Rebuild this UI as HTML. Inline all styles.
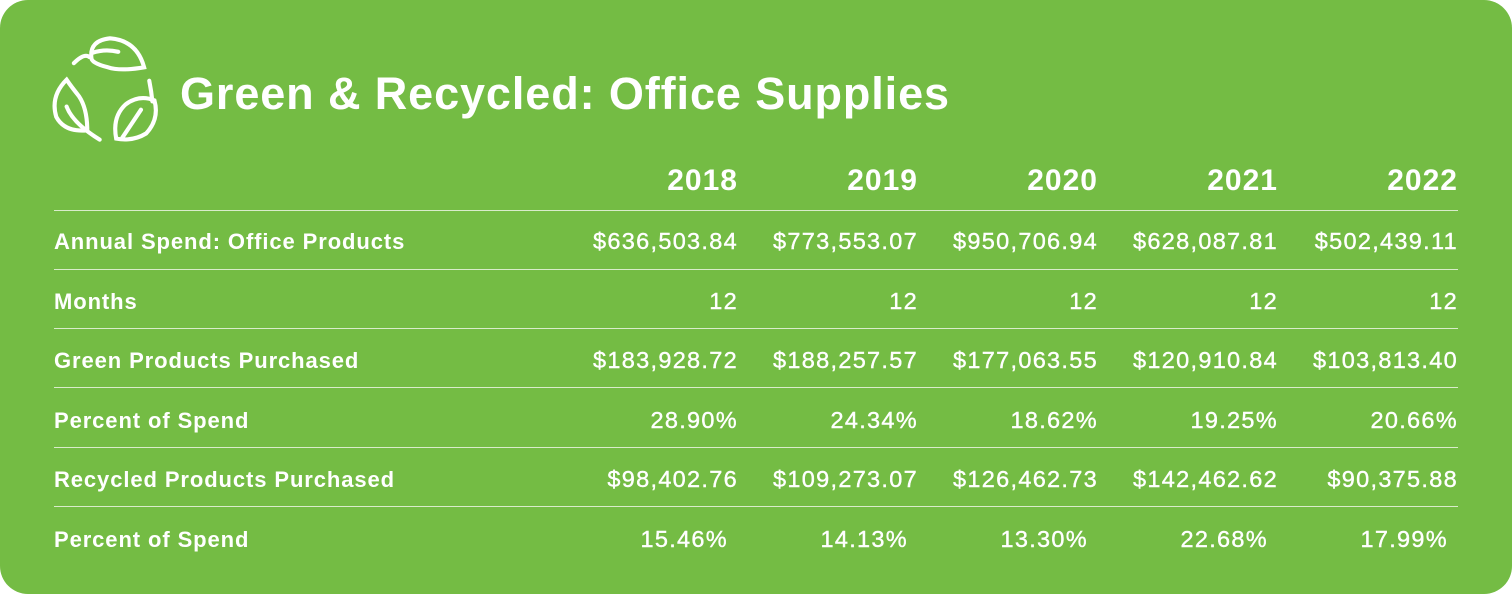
<!DOCTYPE html>
<html><head><style>
html,body{margin:0;padding:0;background:#fff;}
#c{position:absolute;left:0;top:0;width:1512px;height:594px;background:#74bc44;border-radius:28px;font-family:"Liberation Sans",sans-serif;color:#fff;overflow:hidden;}
.t{position:absolute;left:180px;top:68px;font-size:45px;font-weight:bold;white-space:nowrap;letter-spacing:0.9px;}
.line{position:absolute;left:54px;width:1404px;height:1px;background:#d9ecca;}
.lab{position:absolute;left:54px;font-size:22px;font-weight:bold;white-space:nowrap;letter-spacing:0.9px;}
.v{position:absolute;font-size:23.5px;text-align:right;width:180px;white-space:nowrap;letter-spacing:1.3px;-webkit-text-stroke:0.4px #fff;}
.h{position:absolute;font-size:30px;font-weight:bold;text-align:right;width:180px;letter-spacing:1px;}
</style></head><body><div id="c">
<svg style="position:absolute;left:48px;top:34px" width="124" height="110" viewBox="0 0 120 106" fill="none" stroke="#fff" stroke-width="4" stroke-linecap="round">
<path d="M25 28 Q35 18 40 22"/>
<path d="M42 23 Q40 6 60 4 Q86 6 93 32 Q70 36 58 32 Q42 28 42 23Z"/>
<path d="M43 18 Q55 14 68 17"/>
<path d="M18 44 Q2 60 8 80 Q16 95 38 93 Q38 72 30 60 Q22 50 18 44Z"/>
<path d="M18 70 Q24 86 50 102"/>
<path d="M98 45 Q100 55 101 65"/>
<path d="M66 101 Q62 80 75 68 Q88 58 103 64 Q108 82 95 96 Q82 104 66 101Z"/>
<path d="M90 73 Q80 88 72 100"/>
</svg>
<div class="t">Green &amp; Recycled: Office Supplies</div>
<div class="h" style="left:558px;top:164px">2018</div>
<div class="h" style="left:738px;top:164px">2019</div>
<div class="h" style="left:918px;top:164px">2020</div>
<div class="h" style="left:1098px;top:164px">2021</div>
<div class="h" style="left:1278px;top:164px">2022</div>
<div class="line" style="top:210px"></div>
<div class="line" style="top:269px"></div>
<div class="line" style="top:328px"></div>
<div class="line" style="top:387px"></div>
<div class="line" style="top:447px"></div>
<div class="line" style="top:506px"></div>

<div class="lab" style="top:229px">Annual Spend: Office Products</div>
<div class="v" style="left:558px;top:228px">$636,503.84</div>
<div class="v" style="left:738px;top:228px">$773,553.07</div>
<div class="v" style="left:918px;top:228px">$950,706.94</div>
<div class="v" style="left:1098px;top:228px">$628,087.81</div>
<div class="v" style="left:1278px;top:228px">$502,439.11</div>

<div class="lab" style="top:289px">Months</div>
<div class="v" style="left:558px;top:288px">12</div>
<div class="v" style="left:738px;top:288px">12</div>
<div class="v" style="left:918px;top:288px">12</div>
<div class="v" style="left:1098px;top:288px">12</div>
<div class="v" style="left:1278px;top:288px">12</div>

<div class="lab" style="top:348px">Green Products Purchased</div>
<div class="v" style="left:558px;top:347px">$183,928.72</div>
<div class="v" style="left:738px;top:347px">$188,257.57</div>
<div class="v" style="left:918px;top:347px">$177,063.55</div>
<div class="v" style="left:1098px;top:347px">$120,910.84</div>
<div class="v" style="left:1278px;top:347px">$103,813.40</div>

<div class="lab" style="top:408px">Percent of Spend</div>
<div class="v" style="left:558px;top:407px">28.90%</div>
<div class="v" style="left:738px;top:407px">24.34%</div>
<div class="v" style="left:918px;top:407px">18.62%</div>
<div class="v" style="left:1098px;top:407px">19.25%</div>
<div class="v" style="left:1278px;top:407px">20.66%</div>

<div class="lab" style="top:467px">Recycled Products Purchased</div>
<div class="v" style="left:558px;top:466px">$98,402.76</div>
<div class="v" style="left:738px;top:466px">$109,273.07</div>
<div class="v" style="left:918px;top:466px">$126,462.73</div>
<div class="v" style="left:1098px;top:466px">$142,462.62</div>
<div class="v" style="left:1278px;top:466px">$90,375.88</div>

<div class="lab" style="top:527px">Percent of Spend</div>
<div class="v" style="left:548px;top:526px">15.46%</div>
<div class="v" style="left:728px;top:526px">14.13%</div>
<div class="v" style="left:908px;top:526px">13.30%</div>
<div class="v" style="left:1088px;top:526px">22.68%</div>
<div class="v" style="left:1268px;top:526px">17.99%</div>
</div></body></html>
